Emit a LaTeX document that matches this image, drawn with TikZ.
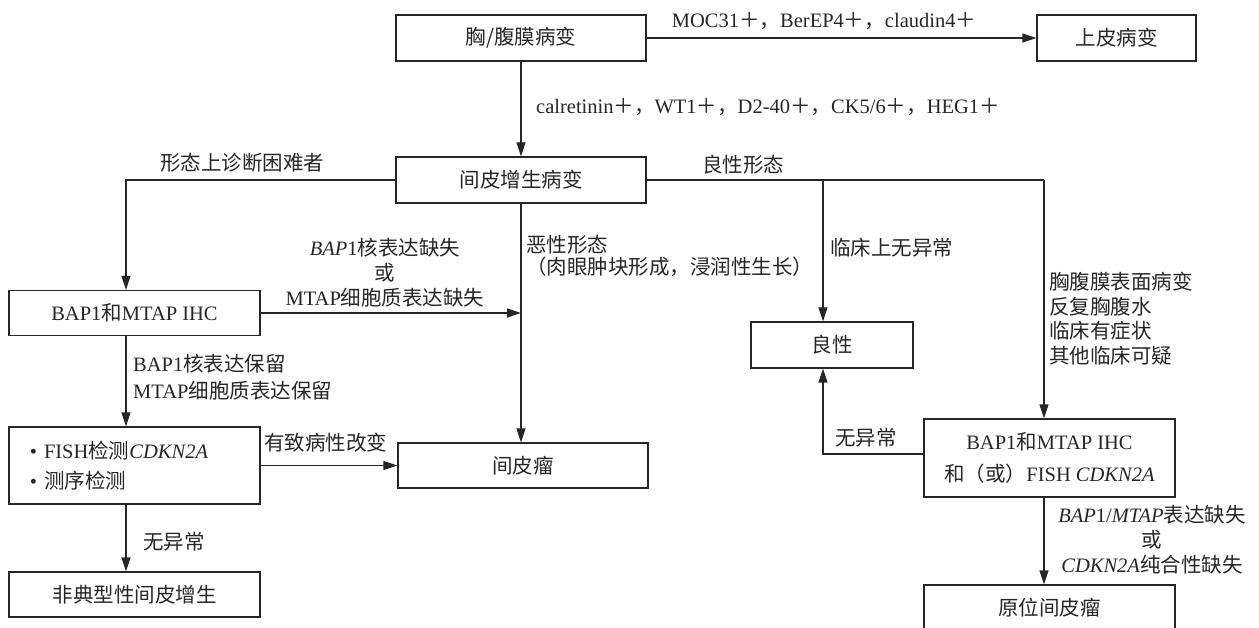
\documentclass[tikz,border=0pt]{standalone}
\usepackage{fontspec}
\setmainfont{Liberation Serif}
\newfontfamily\cjk{Noto Sans CJK SC}
\newcommand\zh[1]{{\cjk #1}}
\newcommand\fsz[1]{\fontsize{20.5}{#1}\selectfont}
\usetikzlibrary{arrows.meta}
\begin{document}
\begin{tikzpicture}[x=1pt,y=-1pt,
  every node/.style={font=\fsz{25}, text=black!85, inner sep=0pt},
  box/.style={draw=black!85, line width=1.3pt, minimum height=46pt, align=center},
  arr/.style={draw=black!85, line width=1.3pt, -{Triangle[length=14pt,width=9pt]}},
  ln/.style={draw=black!85, line width=1.3pt}]
\useasboundingbox (0,0) rectangle (1259,628);
% boxes
\node[box, minimum width=250pt] (n1) at (521,38) {\zh{胸/腹膜病变}};
\node[box, minimum width=159pt] (n2) at (1116.5,38) {\zh{上皮病变}};
\node[box, minimum width=250pt] (n3) at (521,180) {\zh{间皮增生病变}};
\node[box, minimum width=251pt, minimum height=45pt] (bl) at (134.5,313) {BAP1\zh{和}MTAP IHC};
\node[box, minimum width=251pt, minimum height=77pt, text width=209pt, align=left, font=\fsz{30}] (fish) at (134.5,465.5) {\textbullet\ FISH\zh{检测}\textit{CDKN2A}\\\textbullet\ \zh{测序检测}};
\node[box, minimum width=251pt, minimum height=45pt] (aty) at (134.5,594.5) {\zh{非典型性间皮增生}};
\node[box, minimum width=250pt, minimum height=45pt] (meso) at (523,465.5) {\zh{间皮瘤}};
\node[box, minimum width=162pt] (ben) at (832,345) {\zh{良性}};
\node[box, minimum width=251pt, minimum height=78pt, font=\fsz{32}] (br) at (1049.5,458) {BAP1\zh{和}MTAP IHC\\\zh{和（或）}FISH \textit{CDKN2A}};
\node[box, minimum width=251pt] (insitu) at (1049.5,608) {\zh{原位间皮瘤}};
% bend points
\coordinate (cL) at (126,180);
\coordinate (cR) at (1044,180);
\coordinate (cB) at (823,180);
\coordinate (cN) at (823,454);
% connectors
\draw[arr] (n1.east) -- (n2.west);
\draw[arr] (n1.south) -- (n3.north);
\draw[arr] (n3.west) -- (cL) -- (bl.north -| cL);
\draw[ln] (n3.east) -- (cR);
\draw[arr] (cR) -- (br.north -| cR);
\draw[arr] (cB) -- (ben.north -| cB);
\draw[arr] (n3.south) -- (meso.north -| n3.south);
\draw[arr] (bl.east) -- (bl.east -| n3.south);
\draw[arr] (bl.south -| cL) -- (fish.north -| cL);
\draw[arr] (fish.east) -- (meso.west |- fish.east);
\draw[arr] (fish.south -| cL) -- (aty.north -| cL);
\draw[arr] (br.west |- cN) -- (cN) -- (ben.south -| cN);
\draw[arr] (br.south -| cR) -- (insitu.north -| cR);
% labels
\node (l1) at (824,21) {MOC31\zh{＋，}BerEP4\zh{＋，}claudin4\zh{＋}};
\node[anchor=west] (l2) at (536,107) {calretinin\zh{＋，}WT1\zh{＋，}D2-40\zh{＋，}CK5/6\zh{＋，}HEG1\zh{＋}};
\node (l3) at (242,163) {\zh{形态上诊断困难者}};
\node[anchor=west] (l4) at (702,165) {\zh{良性形态}};
\node[align=center] (l5) at (385,273) {\textit{BAP}1\zh{核表达缺失}\\\zh{或}\\MTAP\zh{细胞质表达缺失}};
\node[anchor=west, align=left, font=\fsz{22}] (l6) at (526,256) {\zh{恶性形态}\\\zh{（肉眼肿块形成，浸润性生长）}};
\node[anchor=west] (l7) at (830,248) {\zh{临床上无异常}};
\node[anchor=west, align=left, font=\fsz{24.5}] (l8) at (1049,318.5) {\zh{胸腹膜表面病变}\\\zh{反复胸腹水}\\\zh{临床有症状}\\\zh{其他临床可疑}};
\node[anchor=west, align=left, font=\fsz{27}] (l9) at (133,377.5) {BAP1\zh{核表达保留}\\MTAP\zh{细胞质表达保留}};
\node[anchor=west] (l10) at (264,443) {\zh{有致病性改变}};
\node[anchor=west] (l11) at (143,542) {\zh{无异常}};
\node[anchor=west] (l12) at (835,438) {\zh{无异常}};
\node[align=center] (l13) at (1152,540) {\textit{BAP}1/\textit{MTAP}\zh{表达缺失}\\\zh{或}\\\textit{CDKN2A}\zh{纯合性缺失}};
\end{tikzpicture}
\end{document}
